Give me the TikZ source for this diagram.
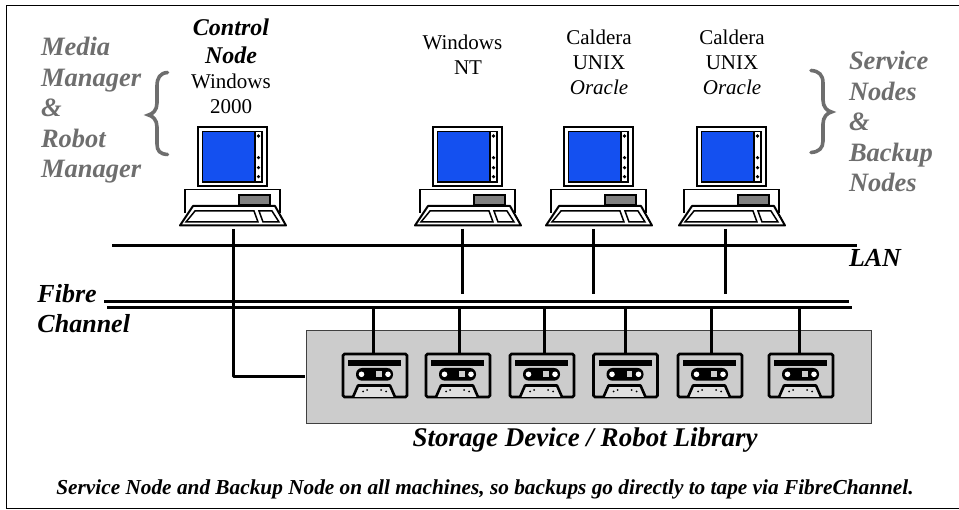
\documentclass[tikz,border=0pt]{standalone}
\usepackage{fontspec}
\setmainfont{Liberation Serif}
\definecolor{sidegray}{HTML}{6E6E6E}
\definecolor{boxgray}{HTML}{CCCCCC}
\definecolor{screenblue}{HTML}{1450F0}
\definecolor{slotgray}{HTML}{808080}
\tikzset{
  x=1pt,y=-1pt,
  wire/.style={line width=3pt,line cap=butt,line join=miter},
  fibre/.style={line width=2.8pt},
  lbl/.style={inner sep=0pt,outer sep=0pt,anchor=base,align=center},
  sidelabel/.style={inner sep=0pt,outer sep=0pt,align=left,text=sidegray,font=\fontsize{26.5}{30.5}\selectfont\bfseries\itshape},
  blacklabel/.style={inner sep=0pt,outer sep=0pt,align=left,font=\fontsize{26}{30}\selectfont\bfseries\itshape},
  oslabel/.style={lbl,font=\fontsize{21}{25}\selectfont},
  ctrllabel/.style={lbl,font=\fontsize{24}{28}\selectfont\bfseries\itshape},
  brace/.style={draw=sidegray,line width=3.6pt,line cap=round,fill=none},
  computer/.pic={
    \draw[line width=2pt,fill=white] (0,0) rectangle (69,59);
    \fill[screenblue] (4.5,4.5) rectangle (57,55);
    \draw[line width=1.6pt] (4.5,4.5) rectangle (64,55);
    \draw[line width=1.2pt] (57,4.5) -- (57,55);
    \foreach \yy in {9,30.7,40.7,49.7} {\fill (60.5,\yy) circle (1.8);}
    \draw[line width=1.8pt,fill=white] (-13,86) -- (-13,62.5) -- (82,62.5) -- (82,86);
    \draw[line width=1.2pt,fill=slotgray] (41,68) rectangle (72,78);
    \draw[line width=2pt,fill=white,line join=round] (-5,79) -- (77,79) -- (88,98.5) -- (-18,98.5) -- cycle;
    \draw[line width=1.5pt,fill=white] (-3,84) -- (56,84) -- (60,95) -- (-12,95) -- cycle;
    \draw[line width=1.5pt,fill=white] (61,84) -- (74,84) -- (81,95) -- (65,95) -- cycle;
  },
  tape/.pic={
    \draw[line width=2.6pt,fill=boxgray,rounded corners=1.5pt] (0,0) rectangle (64,43);
    \fill (5,6) rectangle (58,12);
    \fill[rounded corners=6pt] (13,14) rectangle (50,26.7);
    \fill[white] (18.5,20.3) circle (2.8) (45,20.3) circle (2.8);
    \fill[boxgray] (33,17.5) rectangle (38.5,23.5);
    \draw[line width=2.6pt,fill=boxgray!60!white,line join=round] (10,43) -- (15,31.5) -- (47,31.5) -- (52,43);
    \fill (20,37.5) circle (1) (24,36) circle (1) (38,36) circle (1) (43,37.5) circle (1);
  }
}
\begin{document}
\begin{tikzpicture}
\useasboundingbox (0,0) rectangle (959,510);
% frame
\coordinate (frameTR) at (962,6);
\coordinate (frameTL) at (6,6);
\coordinate (frameBL) at (6,508.7);
\coordinate (frameBR) at (962,508.7);
\draw[line width=1pt] (frameTR) -- (frameTL) -- (frameBL) -- (frameBR);
% storage box
\node[draw=black!75,line width=.7pt,fill=boxgray,inner sep=0pt,minimum width=565pt,minimum height=92.7pt,anchor=north west] (library) at (306,330) {};
% computers
\path (198,127) pic {computer};
\path (433,127) pic {computer};
\path (564,127) pic {computer};
\path (697,127) pic {computer};
% tapes
\foreach \tx in {343,426,510,593.5,678,769} {\path (\tx,354) pic {tape};}
% LAN and fibre
\coordinate (lanL) at (112,245.5);
\coordinate (lanR) at (857,245.5);
\coordinate (fibreAL) at (104,301.7);
\coordinate (fibreAR) at (849,301.7);
\coordinate (fibreBL) at (107,307.3);
\coordinate (fibreBR) at (852,307.3);
\draw[wire] (lanL) -- (lanR);
\draw[fibre] (fibreAL) -- (fibreAR);
\draw[fibre] (fibreBL) -- (fibreBR);
% computer drops
\coordinate (pcA) at (233.5,229);
\coordinate (pcB) at (462,229);
\coordinate (pcC) at (593,229);
\coordinate (pcD) at (725,229);
\coordinate (dropB) at (462,294);
\coordinate (dropC) at (593,294);
\coordinate (dropD) at (725,294);
\coordinate (libIn) at (305,377);
\draw[wire,line join=round] (pcA) |- (libIn);
\draw[wire] (pcB) -- (dropB);
\draw[wire] (pcC) -- (dropC);
\draw[wire] (pcD) -- (dropD);
% tape drops
\foreach \dx [count=\di] in {373,459,544,625,711,799} {
  \coordinate (fu\di) at (\dx,307);
  \coordinate (td\di) at (\dx,355);
  \draw[wire] (fu\di) -- (td\di);
}
% braces
\draw[brace] (167.5,72.5) .. controls (160,73) and (157,78) .. (157,86) -- (157,103) .. controls (157,110) and (153,114) .. (148.5,115) .. controls (153,116) and (157,120) .. (157,127) -- (157,144) .. controls (157,151) and (160,154) .. (167.5,154.5);
\draw[brace] (811,70.5) .. controls (819,71) and (823,75) .. (823,83) -- (823,100) .. controls (823,107) and (827,111) .. (831.5,112) .. controls (827,113) and (823,117) .. (823,124) -- (823,141) .. controls (823,148) and (819,152) .. (811,152.5);
% labels
\node[sidelabel,anchor=base west] (media) at (41,178) {Media\\Manager\\\&\\Robot\\Manager};
\node[sidelabel,anchor=base west] (service) at (849,192) {Service\\Nodes\\\&\\Backup\\Nodes};
\node[ctrllabel] (ctrl) at (231,64) {Control\\Node};
\node[oslabel] (win2k) at (231,114) {Windows\\2000};
\node[oslabel] (winnt) at (462.5,75) {Windows\\\hspace{11pt}NT};
\node[oslabel] (cal1) at (599,95) {Caldera\\UNIX\\\itshape Oracle};
\node[oslabel] (cal2) at (732,95) {Caldera\\UNIX\\\itshape Oracle};
\node[blacklabel,anchor=base west] (lan) at (849,267) {LAN};
\node[blacklabel,anchor=base west] (fc) at (37.5,333) {Fibre\\Channel};
\node[lbl,font=\fontsize{27}{30}\selectfont\bfseries\itshape] (store) at (585,447) {Storage Device / Robot Library};
\node[lbl,font=\fontsize{21.3}{25}\selectfont\bfseries\itshape] (note) at (485,495) {Service Node and Backup Node on all machines, so backups go directly to tape via FibreChannel.};
\end{tikzpicture}
\end{document}
